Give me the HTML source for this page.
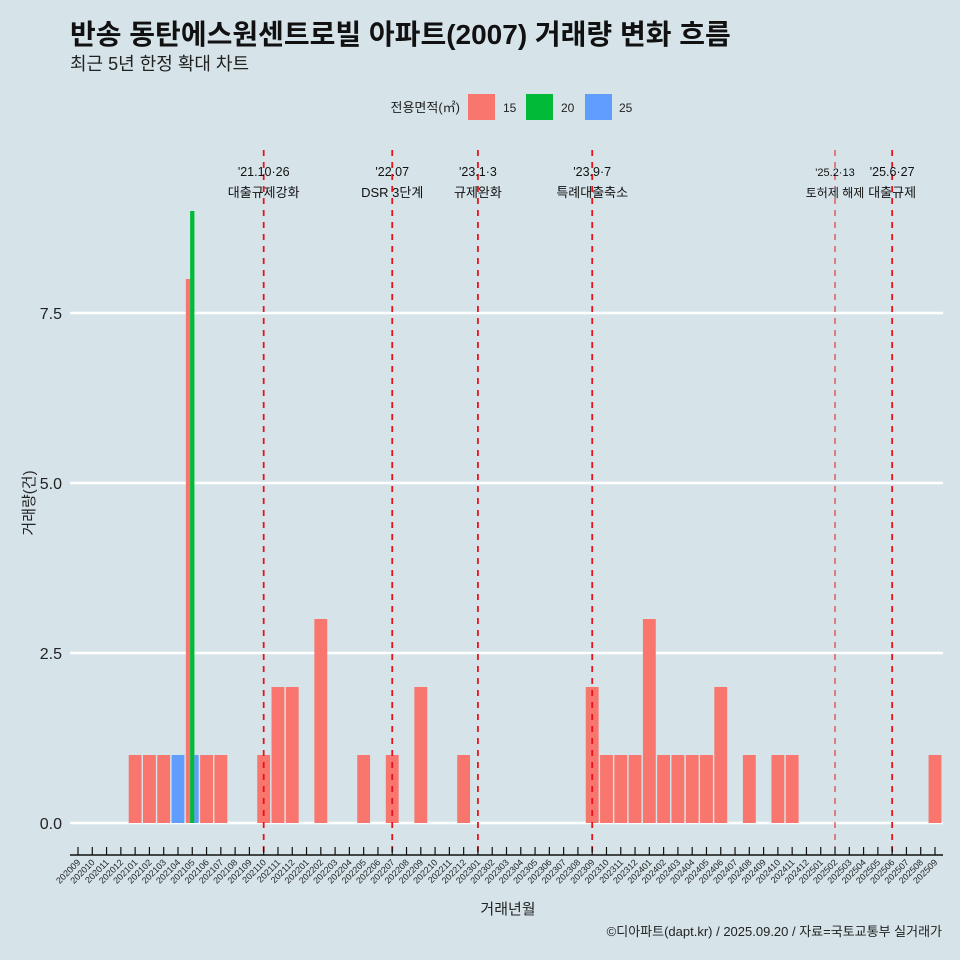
<!DOCTYPE html>
<html><head><meta charset="utf-8">
<style>
body{margin:0;background:#d6e4ea;}
svg{display:block;font-family:"Liberation Sans","Noto Sans CJK KR",sans-serif;}
</style></head>
<body>
<svg id="chart" width="960" height="960" viewBox="0 0 960 960">
<rect width="960" height="960" fill="#d6e4ea"/>
<text x="70" y="44" font-size="28" font-weight="bold" fill="#111">반송 동탄에스원센트로빌 아파트(2007) 거래량 변화 흐름</text>
<text x="70" y="70" font-size="18" fill="#222">최근 5년 한정 확대 차트</text>
<g>
<text x="460" y="112" font-size="13" text-anchor="end" fill="#222">전용면적(㎡)</text>
<rect x="468" y="94" width="27" height="26" fill="#f8766d"/>
<text x="503" y="112" font-size="12" fill="#222">15</text>
<rect x="526" y="94" width="27" height="26" fill="#00ba38"/>
<text x="561" y="112" font-size="12" fill="#222">20</text>
<rect x="585" y="94" width="27" height="26" fill="#619cff"/>
<text x="619" y="112" font-size="12" fill="#222">25</text>
</g>
<g id="grid"></g>
<g id="bars"></g>
<g id="events"></g>
<g id="axes"></g>
<text x="508" y="914" font-size="15" text-anchor="middle" fill="#222">거래년월</text>
<text transform="translate(34,503) rotate(-90)" font-size="15" text-anchor="middle" fill="#222">거래량(건)</text>
<text x="942" y="936" font-size="13" text-anchor="end" fill="#222">©디아파트(dapt.kr) / 2025.09.20 / 자료=국토교통부 실거래가</text>
</svg>
<script>
const months = [];
for (let y = 2020, m = 9; !(y === 2025 && m === 10); ) { months.push(String(y) + String(m).padStart(2, '0')); m++; if (m > 12) { m = 1; y++; } }
const sizes = ['15', '20', '25'];
const sizeColors = ['#f8766d', '#00ba38', '#619cff'];
const series15 = {"202101":1,"202102":1,"202103":1,"202105":8,"202106":1,"202107":1,"202110":1,"202111":2,"202112":2,"202202":3,"202205":1,"202207":1,"202209":2,"202212":1,"202309":2,"202310":1,"202311":1,"202312":1,"202401":3,"202402":1,"202403":1,"202404":1,"202405":1,"202406":2,"202408":1,"202410":1,"202411":1,"202509":1};
const series20 = {"202105":9};
const series25 = {"202104":1,"202105":1};
const yTicks = [0, 2.5, 5, 7.5];
const yTickLabels = ['0.0', '2.5', '5.0', '7.5'];
const eventMonths = ['202110', '202207', '202301', '202309', '202502', '202506'];
const eventDates = ["'21.10·26", "'22.07", "'23.1·3", "'23.9·7", "'25.2·13", "'25.6·27"];
const eventLabels = ['대출규제강화', 'DSR 3단계', '규제완화', '특례대출축소', '토허제 해제', '대출규제'];

const NS = 'http://www.w3.org/2000/svg';
const x0 = 78, step = (935 - 78) / 60;
const xScale = i => x0 + i * step;
const yScale = v => 823 - v * 68;
function mk(tag, attrs, parent) { const e = document.createElementNS(NS, tag); for (const k in attrs) e.setAttribute(k, attrs[k]); parent.appendChild(e); return e; }
const grid = document.getElementById('grid'), bars = document.getElementById('bars'), ev = document.getElementById('events'), axes = document.getElementById('axes');

yTicks.forEach((t, i) => {
  const l = mk('line', {x1: 70, x2: 943, y1: yScale(t), y2: yScale(t), stroke: '#fff', 'stroke-width': 2.5}, grid);
  
  
  const tx = mk('text', {x: 62, y: yScale(t) + 6, 'font-size': 16, 'text-anchor': 'end', fill: '#222'}, axes);
  tx.textContent = yTickLabels[i];
  
  
});

const all = [series15, series20, series25];
const bw = step * 0.9;
months.forEach((mo, i) => {
  const present = [0, 1, 2].filter(s => all[s][mo]);
  const n = present.length;
  present.forEach((s, k) => {
    const w = bw / n;
    const x = xScale(i) - bw / 2 + k * w;
    const v = all[s][mo];
    const r = mk('rect', {x: x, y: yScale(v), width: w, height: yScale(0) - yScale(v), fill: sizeColors[s]}, bars);
    
    
  });
});

eventMonths.forEach((mo, k) => {
  const i = months.indexOf(mo);
  const x = xScale(i);
  const thin = mo === '202502';
  const l = mk('line', {x1: x, x2: x, y1: 150, y2: 855, stroke: '#e8141c', 'stroke-width': thin ? 1 : 1.8, 'stroke-dasharray': '6,6'}, ev);
  
  
  const t1 = mk('text', {x: x, y: 176, 'font-size': thin ? 11 : 12.5, 'text-anchor': 'middle', fill: '#111'}, ev);
  t1.textContent = eventDates[k];
  
  
  const t2 = mk('text', {x: x, y: 197, 'font-size': thin ? 12 : 13, 'text-anchor': 'middle', fill: '#111'}, ev);
  t2.textContent = eventLabels[k];
  
  
});

const ax = mk('line', {x1: 70, x2: 943, y1: 855, y2: 855, stroke: '#111', 'stroke-width': 1.5}, axes);


months.forEach((mo, i) => {
  const x = xScale(i);
  const t = mk('line', {x1: x, x2: x, y1: 847, y2: 855, stroke: '#111', 'stroke-width': 1.2}, axes);
  
  
  const lb = mk('text', {x: x + 3, y: 863, 'font-size': 9, 'text-anchor': 'end', fill: '#222', transform: 'rotate(-45 ' + (x + 3) + ' 863)'}, axes);
  lb.textContent = mo;
  
  
});
</script>
</body></html>
